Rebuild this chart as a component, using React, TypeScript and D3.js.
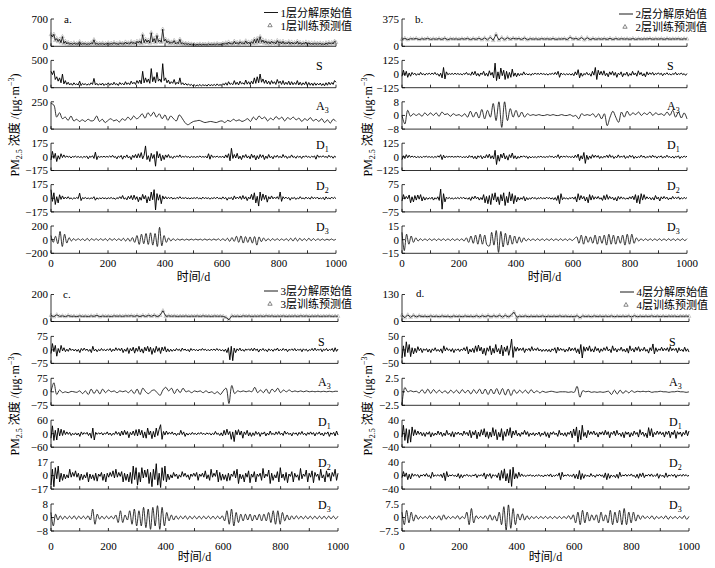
import React from "react";
import * as d3 from "d3";

// ---------- Panel a (layer 1) ----------
const aS = [300,240,310,150,200,120,180,90,250,70,130,
  60,100,50,80,45,90,55,70,50,120,
  40,80,55,75,45,70,50,90,60,170,50,80,45,75,50,85,40,70,55,90,
  45,80,50,100,55,75,40,95,60,80,50,110,60,90,55,120,70,100,60,130,
  80,140,70,300,90,180,100,160,80,350,110,200,90,280,120,160,100,440,130,180,
  90,140,70,110,80,150,60,100,70,180,60,90,50,80,45,70,40,60,35,55,
  30,50,35,60,30,55,40,50,30,65,35,55,40,60,35,70,40,55,45,75,
  50,90,45,110,60,80,55,130,60,100,50,120,70,90,60,140,65,110,60,120,
  70,180,80,200,90,250,100,160,80,140,70,120,60,130,75,110,60,150,80,120,
  60,130,55,100,60,120,50,110,55,95,60,130,50,100,45,90,55,110,40,95,
  45,85,40,90,45,80,50,85,40,75,35,90,45,100,55,95,60,130,100];
const aOrig = aS;
const aA3 = [235,220,110,150,95,110,80,120,75,90,70,85,70,90,75,80,120,70,90,60,80,95,75,85,65,95,80,110,85,120,95,110,140,100,150,120,155,110,140,95,130,80,120,95,75,130,100,60,40,55,70,75,80,70,60,65,70,65,60,70,75,60,80,70,90,75,85,70,80,95,70,110,85,120,95,110,75,100,85,115,90,110,75,105,90,110,85,100,70,95,80,105,75,90,70,95,60,85,55,90,70];
const aD1 = [-40,70,-20,45,-60,15,-30,40,-10,25,-8,12,-5,8,-15,6,-4,10,-6,5,
  -8,4,-12,6,-5,10,-25,8,-6,15,-20,60,-35,10,-6,5,-4,8,-5,6,
  -4,12,-6,20,-8,5,-25,10,-6,18,-30,12,-8,25,-15,6,-35,20,-10,30,
  -15,40,-10,55,-25,20,140,-35,15,-60,45,-20,30,-120,70,-15,40,-50,20,-35,
  25,-8,30,-12,6,-20,10,-6,15,-5,25,-8,6,-4,10,-6,4,-12,6,-5,
  4,-8,5,-4,12,-6,4,-5,8,-15,40,-30,25,-8,5,-4,10,-6,4,-5,
  8,-15,25,-10,40,-50,110,-20,30,-15,45,-25,10,-35,20,-8,30,-15,12,-25,
  35,-10,20,-40,15,-25,30,-8,25,-35,10,-20,30,-12,8,-25,15,-6,20,-10,
  8,-15,30,-6,12,-20,5,-10,25,-8,6,-18,12,-5,8,-20,10,-4,15,-6,
  5,-10,8,-4,12,-30,25,-6,8,-4,15,-6,5,-12,20,-5,8,-18,10,-6];
const aD2 = [110,-40,70,-80,20,-60,45,-15,30,-10,15,-6,20,-8,5,-12,6,-4,10,-5,
  65,-30,8,-4,10,-6,4,-8,5,-4,20,-25,6,-10,4,-6,8,-5,4,-8,
  6,-4,10,-5,4,-15,8,-5,20,-6,35,-12,6,-20,25,-8,35,-20,40,-15,
  20,-45,15,-25,50,-10,35,-60,20,-35,80,-20,110,-150,60,-25,45,-70,30,-10,
  20,-8,12,-5,15,-10,4,-8,12,-5,20,-4,6,-3,10,-6,4,-8,5,-4,
  8,-4,12,-6,4,-10,15,-5,8,-4,6,-12,5,-4,10,-6,15,-5,4,-10,
  18,-6,10,-25,8,-4,12,-20,30,-8,15,-5,25,-15,35,-10,20,-30,15,-8,
  50,-20,70,-60,25,-100,80,-30,55,-15,40,-50,20,-10,30,-8,15,-5,20,-12,
  80,-40,20,-6,15,-5,10,-25,8,-4,12,-15,5,-8,20,-6,4,-10,15,-5,
  8,-12,20,-6,10,-4,15,-10,5,-8,12,-20,18,-6,4,-8,15,-5,12,-6];
const aD3 = [60,-40,50,-60,120,-100,80,-50,30,-20,15,-12,15,-10,12,-15,18,-15,15,-10,12,-10,15,-12,15,-15,18,-12,15,-12,15,-15,20,-20,20,-25,30,-40,60,-70,80,-60,90,-70,100,-80,90,-100,180,-90,60,-40,25,-20,15,-12,10,-8,8,-8,8,-8,8,-6,8,-6,8,-8,10,-8,8,-8,10,-8,12,-12,15,-15,20,-25,30,-25,50,-40,55,-50,45,-40,40,-50,45,-80,40,-30,25,-20,15,-15,15,-12,15,-12,12,-12,15,-15,20,-20,25,-20,20,-15,15,-15,20,-15,15,-12,12,-10,10,-10,8,-8,10,-8,8];

// ---------- Panel b (layer 2) ----------
const bOrig = [95,110,90,105,100,108,92,104,98,110,95,103,97,106,94,112,90,104,99,102,96,105,98,110,92,107,95,112,90,115,88,125,80,165,85,120,90,118,95,112,100,108,94,115,90,105,98,103,96,106,99,104,97,108,95,102,100,106,92,125,98,110,94,120,88,118,92,108,96,104,98,106,95,110,93,108,97,105,99,103,96,107,95,104,98,102,100,106,97,103,99,104,96,105,98,102,100,104,97,103,100];
const bS = [-20,35,-15,25,-30,10,-20,15,-5,8,-12,4,-8,15,-6,4,-10,6,-3,8,
  -5,10,-4,15,-6,3,-20,8,-35,60,-45,20,-6,4,-3,6,-4,8,-3,5,
  -4,3,-8,5,-3,15,-6,4,-12,20,-8,25,-15,6,-20,10,-5,25,-15,8,
  -20,30,-10,15,-35,100,-60,20,-45,55,-15,35,-50,25,-40,15,-30,45,-20,10,
  -25,8,-15,5,-10,20,-6,4,-8,3,-12,5,-4,10,-3,6,-4,8,-3,4,
  -6,3,-10,4,-3,8,-5,15,-6,25,-30,10,-5,4,-8,3,-6,4,-10,5,
  -15,20,-8,40,-35,10,-20,5,-6,15,-8,4,-20,25,-10,60,-50,35,-8,25,
  -10,30,-15,8,-25,20,-6,25,-12,15,-30,8,-6,20,-25,6,-10,18,-20,5,
  -12,25,-8,10,-20,30,-6,15,-18,5,-25,20,-8,12,-4,15,-10,6,-3,12,
  -5,8,-15,6,-4,12,-6,3,-10,5,-4,15,-8,4,-3,10,-6,4,-12,5];
const bA3 = [0,-5,3,-0.5,1,0,1,-0.5,1.5,0,1.5,0,1.5,-0.5,2,0.5,1,-0.5,1,0,0.5,-0.5,1,-1,2.5,-1,2,-1.5,3.5,-2,3,-1,7,-3,8,-7,8,-3,4,-1,3,-1,2,-1,1,0,0.5,0,0.5,0,0,0.5,0,0.5,0,0,0.5,0,0,0.5,-0.5,0,-2,1,0,0.5,0,1,-1,1,-2,1,-6,-1,2.5,-1,-4,2,-1,2.5,0,1.5,0.5,2,0,1.5,0.5,2,0,1.5,0.5,1,0,2,0,3,-1,2,-1.5,1.5,-2];
const bD1 = [-25,10,-15,20,-8,15,-5,8,-3,6,-10,4,-6,3,-8,5,-2,6,-4,3,
  -5,3,-8,4,-6,10,-4,20,-25,15,-10,6,-3,4,-2,5,-4,3,-2,6,
  -3,5,-8,2,-6,4,-10,12,-4,8,-15,6,-20,10,-5,12,-18,6,-10,20,
  -8,25,-15,10,-20,60,-70,15,-40,25,-10,35,-20,10,-30,20,-8,35,-15,10,
  -20,5,-12,8,-3,10,-4,6,-15,5,-10,3,-6,2,-8,4,-3,6,-5,2,
  -6,3,-4,8,-2,5,-10,6,-5,20,-15,8,-3,6,-2,8,-4,3,-6,5,
  -10,15,-6,25,-35,10,-20,40,-60,15,-25,8,-15,20,-6,15,-4,12,-15,5,
  -12,6,-4,15,-8,20,-5,10,-15,4,-8,18,-6,5,-3,12,-15,4,-8,15,
  -4,12,-15,5,-10,3,-6,15,-4,8,-12,3,-5,10,-8,15,-3,6,-12,5,
  -3,10,-12,4,-6,15,-4,3,-10,6,-12,5,-4,10,-15,3,-6,8,-3,6];
const bD2 = [-15,20,-5,10,-3,18,-25,8,-20,15,-10,18,-5,20,-15,8,-10,4,-6,3,
  -4,6,-10,3,-5,8,-12,50,-60,25,-20,6,-2,4,-3,2,-5,3,-2,4,
  -3,5,-2,6,-4,2,-6,4,-12,8,-4,12,-3,6,-10,4,-8,20,-25,10,
  -30,15,-35,25,-10,30,-20,8,-35,20,-15,30,-40,10,-25,35,-15,25,-30,15,
  -20,6,-10,3,-6,10,-15,4,-8,2,-5,6,-2,4,-6,3,-2,5,-4,2,
  -3,6,-2,4,-5,3,-8,4,-12,15,-30,25,-8,4,-3,2,-6,3,-2,6,
  -5,8,-20,25,-10,15,-4,10,-15,6,-25,20,-10,15,-6,8,-3,10,-5,3,
  -12,15,-8,20,-6,10,-3,6,-10,4,-15,10,-5,8,-3,4,-6,2,-5,8,
  -3,12,-8,20,-25,15,-30,25,-10,20,-6,8,-3,5,-8,4,-10,15,-4,6,
  -15,8,-4,10,-3,6,-8,2,-5,10,-3,5,-2,8,-6,3,-4,5,-2,4];
const bD3 = [8,-12,6,-5,4,-3,2,-1.5,1,-1,1,-1,1,-1,1,-1,1,-1,1,-1,1,-1,1,-1,1,-1,1,-1.5,2,-3,4,-4,5,-5,6,-5,5,-6,-7,8,-6,10,-14,9,-8,7,-6,5,-5,4,-4,3,-3,2,-1.5,1,-1,1,-1,1,-1,1,-1,1,-1,1,-1,1,-1,1,-1,1,-1,1,-1,1,3,-4,5,-5,4,-3,3,-4,5,-5,4,-4,5,-6,6,-5,5,-5,4,-4,5,-6,6,-5,6,-4,2,-1.5,1,-1,1,-1,1,-1,1,-1,1,-1,1,-1,1,-1,1,-1,1,-1,1,-1,1];

// ---------- Panel c (layer 3) ----------
const cOrig = [45,35,50,38,42,36,44,38,40,36,42,38,40,37,42,38,46,35,41,38,40,37,42,39,41,38,42,40,43,38,44,36,45,37,46,38,47,36,45,80,38,42,39,41,38,40,39,41,38,40,39,41,38,42,39,40,38,41,39,40,38,30,12,42,38,40,37,42,39,41,38,40,39,41,38,42,39,41,38,40,39,41,38,40,39,41,38,42,39,41,38,40,39,41,38,40,39,41,38,40,39];
const cS = [-20,35,-10,25,-35,8,-15,25,-6,12,-10,4,-8,10,-3,5,-6,4,-8,3,
  -15,8,-4,10,-3,5,-8,3,-15,20,-6,4,-10,3,-5,8,-4,3,-6,5,
  -3,8,-10,4,-6,12,-3,8,-5,10,-15,4,-8,12,-20,8,-6,15,-18,10,
  -8,20,-12,6,-18,15,-6,20,-10,15,-25,8,-15,20,-8,12,-20,15,-6,18,
  -12,6,-10,4,-8,3,-6,8,-3,4,-8,10,-2,5,-6,3,-10,8,-3,5,
  -4,2,-6,5,-3,8,-2,4,-5,3,-6,4,-2,5,-4,8,-3,4,-6,2,
  -8,4,-15,12,-55,20,-60,10,-15,6,-4,10,-6,3,-8,5,-2,6,-4,8,
  -6,10,-3,5,-12,4,-3,8,-5,2,-10,6,-4,3,-8,5,-2,10,-6,3,
  -4,8,-3,5,-10,3,-2,6,-4,8,-6,3,-2,5,-10,6,-3,4,-8,2,
  -3,8,-5,10,-4,3,-2,6,-10,4,-3,8,-6,3,-2,8,-10,12,-8,5];
const cA3 = [0,50,-15,10,-5,0,-5,2,0,-3,5,-10,5,-15,15,-10,12,-12,15,-5,10,0,5,-5,5,0,5,-5,10,-10,15,-15,20,0,-10,5,10,-5,-20,10,25,5,20,-10,15,-5,20,0,5,-5,5,0,5,-5,5,-5,0,-10,0,-15,5,20,-65,35,-10,5,0,5,0,5,0,25,-5,10,-5,15,-10,15,0,20,-5,10,0,10,0,5,0,5,0,5,0,3,0,3,0,3,0,3,0,3,2];
const cD1 = [-20,35,-30,15,-28,25,-10,20,-8,15,-4,8,-3,6,-8,2,-5,4,-6,3,
  -12,8,-4,5,-2,6,-8,3,-20,25,-28,6,-3,4,-2,5,-6,3,-2,8,
  -5,3,-8,2,-4,10,-3,6,-10,12,-6,15,-4,10,-18,6,-5,12,-8,18,
  -10,20,-6,15,-18,8,-20,25,-5,12,-22,10,-15,25,-8,20,40,-25,10,-6,
  12,-3,6,-2,8,-4,3,-8,2,-5,15,-4,8,-12,3,-6,2,-4,6,-3,
  2,-5,4,-2,6,-3,2,-5,4,-2,3,-6,2,-4,10,-3,2,-8,4,-10,
  15,-6,20,-4,10,-25,8,-35,15,-5,18,-6,12,-20,8,-4,15,-10,5,-12,
  4,-8,10,-3,6,-12,4,-2,8,-10,3,-6,12,-4,2,-6,8,-3,10,-4,
  3,-8,12,-2,6,-4,3,-10,5,-2,4,-8,6,-3,10,-4,2,-8,5,-3,
  8,-3,5,-10,4,-2,8,-6,3,-10,5,-2,8,-12,4,-3,6,-10,12,-6];
const cD2 = [-12,8,-14,10,-4,12,-8,3,-6,2,-4,1,-3,8,-2,4,-1,6,-2,3,
  -6,2,-5,1,-3,4,-8,2,-4,1,-6,3,-7,2,-1,4,-6,2,-8,3,
  -2,4,-1,6,-3,8,-2,4,-1,5,-8,3,-6,2,-8,4,-10,12,-5,10,
  -12,4,-8,10,-3,7,-2,8,-10,4,-14,8,-5,15,-12,3,-15,10,-6,12,
  -8,2,-5,1,-3,4,-1,2,-4,1,-2,5,-1,3,-2,1,-5,2,-1,3,
  -1,4,-6,2,-1,3,-2,6,-4,1,-6,8,-2,3,-1,7,-8,4,-6,2,
  -5,1,-7,3,-6,2,-1,6,-3,8,-10,2,-4,1,-8,3,-2,6,-9,2,
  -2,5,-8,2,-1,3,-6,9,-3,2,-1,7,-10,3,-6,1,-3,5,-8,10,
  -3,2,-6,4,-9,2,-1,5,-8,3,-2,1,-6,9,-4,2,-1,7,-8,3,
  -2,6,-9,4,-1,2,-6,8,-3,1,-8,6,-2,3,-7,4,-1,8,-6,3];
const cD3 = [3,-5,2,-1.5,1,-1,0.8,-0.8,0.8,-0.8,1,-1,0.8,-0.8,0.8,-0.8,1,-1.5,5,-4,2,-1,0.8,-0.8,0.8,-0.8,0.8,-0.8,1.5,-3,4,-3,1.5,-1.5,4,-4,5,-5,4,-5,6,-6,5,-7,6,-5,7,-7,6,-5,3,-2,1.5,-1.5,1,-1,0.8,-0.8,1,-1,0.8,-0.8,0.8,-0.8,0.8,-0.8,0.8,-0.8,0.8,-0.8,0.8,-0.8,0.8,-0.8,1,-2,4,-4,5,-5,3,-3,2,-2,2,-1.5,2,-2,1.5,-1.5,2,-2,2,-2,3,-3,4,-4,4,-4,3,-2,1.5,-1.5,1,-1,1,-0.8,0.8,-0.8,0.8,-0.8,0.8,-0.8,0.8,-0.8,0.8,-0.8,0.8,-0.8,0.8,-0.8,0.8,-0.8,0.8];

// ---------- Panel d (layer 4) ----------
const dOrig = [30,18,32,20,30,22,28,24,26,23,27,24,26,23,27,24,26,22,27,24,26,23,27,24,26,23,28,22,28,23,29,22,28,23,30,21,30,22,29,45,20,26,24,27,23,26,24,26,24,27,23,26,24,26,24,27,24,26,24,25,23,28,18,27,24,26,23,27,24,26,24,26,24,27,23,26,24,26,24,27,22,28,23,26,24,26,24,27,24,26,24,26,24,26,25,26,24,26,25,26,25];
const dS = [-30,15,-25,30,-10,20,-25,8,-15,6,-10,12,-3,6,-10,4,-2,5,-8,3,
  -10,4,-3,8,-5,2,-6,4,-12,15,-4,8,-2,3,-6,5,-10,3,-2,4,
  -6,3,-2,8,-4,12,-15,3,-8,6,-10,15,-6,18,-4,10,-15,6,-20,8,
  -5,15,-18,6,-12,20,-8,5,-15,18,-22,10,-6,15,-20,4,40,-28,12,-5,
  10,-3,6,-2,8,-10,4,-2,6,-5,12,-3,5,-2,8,-4,3,-6,2,-5,
  3,-6,2,-8,4,-2,8,-12,10,-3,6,-2,4,-8,3,-5,10,-4,6,-2,
  8,-10,4,-15,20,-30,12,-5,10,-3,15,-6,4,-8,12,-3,6,-10,4,-5,
  8,-2,12,-4,3,-10,15,-3,6,-8,4,-2,10,-5,3,-8,6,-12,15,-3,
  5,-8,10,-2,12,-6,4,-3,10,-5,2,-12,8,-3,22,-15,8,-6,4,-2,
  10,-4,6,-2,8,-6,12,-3,5,-2,6,-10,8,-4,2,-6,10,-5,4,-8];
const dA3 = [-2.5,0.8,0,0.2,0,0.1,-0.2,0.4,-0.3,0.5,-0.3,0.4,-0.2,0.3,-0.2,0.2,-0.3,0.3,-0.2,0.3,-0.3,0.4,-0.2,0.3,-0.4,0.4,-0.3,0.5,-0.4,0.5,-0.5,0.5,-0.4,0.6,-0.5,0.6,-0.6,0.5,-0.7,0.4,-0.3,0.3,-0.2,0.3,-0.3,0.4,-0.2,0.2,-0.2,0.1,-0.1,0,0.1,0,-0.1,0,0,0,-0.1,0,-0.1,1.0,-1.0,0.2,0,0.1,-0.1,0,-0.1,0,-0.1,0,0.1,-0.5,0.3,-0.4,0.3,-0.3,0.2,-0.2,0.2,-0.1,0.1,0,0.1,0,0.1,-0.1,0,0,0.1,0,0,-0.1,0,0,0.1,0,0,-0.1,0];
const dD1 = [-10,25,-20,15,-28,12,-25,20,-6,12,-4,8,-2,5,-6,3,-8,4,-2,6,
  -10,3,-6,2,-4,8,-3,5,-8,2,-6,10,-3,2,-8,6,-10,4,-2,5,
  -3,2,-6,8,-2,4,-6,10,-12,6,-4,10,-15,5,-8,12,-4,15,-10,6,
  -14,5,-10,18,-6,12,-18,4,-10,15,-20,6,-8,14,-5,18,-12,8,-4,10,
  -6,2,-8,4,-2,10,-3,6,-8,2,-4,3,-6,2,-3,5,-8,2,-4,6,
  -8,3,-12,4,-2,6,-3,2,-8,10,-4,2,-6,3,-8,4,-2,8,-12,14,
  -6,20,-25,10,-18,25,-8,4,-12,10,-3,6,-2,8,-4,3,-10,5,-2,6,
  -4,10,-3,6,-12,4,-2,8,-6,10,-3,2,-8,4,-12,6,-2,5,-10,3,
  -6,8,-2,4,-10,12,-3,5,-8,2,-12,18,-6,15,-10,4,-3,8,-2,6,
  -3,4,-10,6,-2,8,-12,5,-3,10,-14,6,-2,5,-8,4,-3,10,-6,8];
const dD2 = [-6,12,-3,8,-12,4,-10,6,-2,4,-1,3,-6,2,-1,4,-2,6,-3,1,
  -8,10,-3,2,-1,3,-2,4,-6,8,-15,12,-4,2,-1,3,-2,1,-4,6,
  -8,3,-6,2,-1,4,-2,1,-3,2,-1,5,-6,2,-1,3,-2,8,-10,4,
  -2,6,-8,3,-1,2,-6,8,-14,15,-8,20,-16,6,-22,18,-32,25,-10,6,
  -8,10,-3,5,-2,1,-3,2,-1,3,-2,1,-3,2,-1,3,-2,1,-4,2,
  -1,3,-2,5,-4,1,-2,3,-1,8,-12,10,-3,2,-1,4,-2,1,-3,5,
  -8,4,-10,15,-12,6,-8,3,-2,1,-4,6,-2,1,-5,3,-1,4,-2,2,
  -6,8,-12,6,-8,2,-3,1,-6,4,-8,10,-3,2,-1,4,-2,3,-1,5,
  -2,1,-6,4,-8,6,-3,8,-6,2,-1,4,-2,5,-3,1,-2,6,-8,3,
  -2,1,-6,8,-5,2,-1,3,-2,4,-6,2,-1,3,-2,4,-1,3,-2,1];
const dD3 = [3,-4,4,-3,3,-2,1.5,-1,0.6,-0.6,0.6,-0.6,1,-1,0.6,-0.6,1,-1.5,1.5,-1,0.6,-0.6,0.6,-0.6,1,-1,0.6,-0.6,3,-4,5,-3,1,-0.6,0.6,-0.6,1,-1,1.5,-1.5,1,-2,3,-4,6,-7,7,-6,5,-4,2,-1.5,2,-1.5,1,-1,0.6,-0.6,0.6,-0.6,0.6,-0.6,0.6,-0.6,0.6,-0.6,0.6,-0.6,0.6,-0.6,0.6,-0.6,1,-1,1.5,-3,3,-4,4,-3,3,-2,1.5,-1.5,1.5,-3,3,-2,1.5,-3,4,-4,3,-3,4,-4,5,-4,3,-3,3,-2,1.5,-1,1,-0.6,0.6,-0.6,1,-1,0.6,-0.6,0.6,-0.6,1,-1,0.6,-0.6,0.6,-0.6,0.6,-0.6,1,-1,0.6];

// ---------- Axis ranges / tick labels ----------
const aRanges = [[0, 700], [0, 500], [0, 250], [-175, 175], [-175, 175], [-200, 200]];
const bRanges = [[0, 375], [-125, 125], [-8, 8], [-125, 125], [-75, 75], [-15, 15]];
const cRanges = [[0, 200], [-75, 75], [-75, 75], [-60, 60], [-17, 17], [-8, 8]];
const dRanges = [[0, 130], [-50, 50], [-2.5, 2.5], [-40, 40], [-40, 40], [-7.5, 7.5]];
const stripNames = ["", "S", "A", "D", "D", "D"];
const stripSubs = ["", "", "3", "1", "2", "3"];
const xTickMinor = [0, 100, 200, 300, 400, 500, 600, 700, 800, 900, 1000];
const xTickLabels = [0, 200, 400, 600, 800, 1000];
const layerNames = ["1", "2", "3", "4"];
const panelLetters = ["a.", "b.", "c.", "d."];

const FONT = "'Liberation Serif','Times New Roman','Noto Sans CJK SC',serif";

type PanelLayout = {
  x0: number; x1: number; y0: number; sp: number; h: number;
  letterX: number; letterY: number; legRight: number; legY1: number; legY2: number;
  xLabY: number; xTitleY: number; yLabX: number; yLabY: number;
};

const layouts: PanelLayout[] = [
  { x0: 51, x1: 336, y0: 19, sp: 41.4, h: 27.3, letterX: 64, letterY: 23, legRight: 352, legY1: 16.5, legY2: 29.5, xLabY: 267, xTitleY: 281, yLabX: 19, yLabY: 125 },
  { x0: 402, x1: 687, y0: 19, sp: 41.4, h: 27.3, letterX: 415, letterY: 23, legRight: 707, legY1: 18, legY2: 31, xLabY: 267, xTitleY: 281, yLabX: 372, yLabY: 125 },
  { x0: 51, x1: 338, y0: 294.5, sp: 41.9, h: 27, letterX: 63, letterY: 298, legRight: 352, legY1: 295, legY2: 308, xLabY: 550, xTitleY: 561, yLabX: 19, yLabY: 404 },
  { x0: 402, x1: 689, y0: 294.5, sp: 41.9, h: 27, letterX: 416, letterY: 297, legRight: 708, legY1: 296, legY2: 309, xLabY: 550, xTitleY: 561, yLabX: 372, yLabY: 404 },
];

const panelData = [
  { series: [aOrig, aS, aA3, aD1, aD2, aD3], ranges: aRanges },
  { series: [bOrig, bS, bA3, bD1, bD2, bD3], ranges: bRanges },
  { series: [cOrig, cS, cA3, cD1, cD2, cD3], ranges: cRanges },
  { series: [dOrig, dS, dA3, dD1, dD2, dD3], ranges: dRanges },
];

const fmt = (v: number) => (v < 0 ? "\u2212" + Math.abs(v) : String(v));

function Panel({ idx }: { idx: number }) {
  const L = layouts[idx];
  const P = panelData[idx];
  const x = d3.scaleLinear().domain([0, 1000]).range([L.x0, L.x1]);
  const tri = d3.symbol(d3.symbolTriangle, 6)() as string;
  const legTri = d3.symbol(d3.symbolTriangle, 8)() as string;
  const labelOffsets = [0, 9.5, 8, 6, 5, 5];

  return (
    <g>
      {P.series.map((data, k) => {
        const [lo, hi] = P.ranges[k];
        const top = L.y0 + k * L.sp;
        const bot = top + L.h;
        const y = d3.scaleLinear().domain([lo, hi]).range([bot, top]);
        const n = data.length;
        const day = (i: number) => (i * 1000) / (n - 1);
        const smooth = k === 2 || k === 5;
        const noisy = k === 1 || k === 3 || k === 4;
        const line = d3
          .line<number>()
          .x((_, i) => x(day(i)))
          .y((d) => y(d))
          .curve(smooth ? d3.curveCatmullRom : d3.curveLinear);
        const yTicks = lo === 0 ? [hi, 0] : [hi, 0, lo];
        return (
          <g key={k}>
            {k === 0 &&
              data.map((d, i) => (
                <path key={i} d={tri} transform={`translate(${x(day(i))},${y(d)})`} fill="none" stroke="#9a9a9a" strokeWidth={0.5} />
              ))}
            <path d={line(data) || ""} fill="none" stroke="#000" strokeWidth={noisy ? 0.95 : 0.8} strokeLinejoin="round" />
            <line x1={L.x0} x2={L.x0} y1={top} y2={bot} stroke="#000" strokeWidth={0.8} />
            {yTicks.map((v) => (
              <g key={v}>
                <line x1={L.x0} x2={L.x0 + 3} y1={y(v)} y2={y(v)} stroke="#000" strokeWidth={0.8} />
                <text x={L.x0 - 3} y={y(v)} dy="0.35em" textAnchor="end" fontSize={11} fontFamily={FONT}>
                  {fmt(v)}
                </text>
              </g>
            ))}
            <line x1={L.x0} x2={L.x1} y1={bot} y2={bot} stroke="#000" strokeWidth={0.8} />
            {xTickMinor.map((t) => (
              <line key={t} x1={x(t)} x2={x(t)} y1={bot} y2={bot - 3} stroke="#000" strokeWidth={0.8} />
            ))}
            {stripNames[k] && (
              <text x={L.x1 - 20} y={top + labelOffsets[k]} fontSize={12} fontFamily={FONT}>
                {stripNames[k]}
                {stripSubs[k] && (
                  <tspan fontSize={8} dy={3}>
                    {stripSubs[k]}
                  </tspan>
                )}
              </text>
            )}
          </g>
        );
      })}
      {xTickLabels.map((t) => (
        <text key={t} x={x(t)} y={L.xLabY} textAnchor="middle" fontSize={11} fontFamily={FONT}>
          {t}
        </text>
      ))}
      <text x={(L.x0 + L.x1) / 2} y={L.xTitleY} textAnchor="middle" fontSize={12} fontFamily={FONT}>
        时间/d
      </text>
      <text x={L.letterX} y={L.letterY} fontSize={11} fontFamily={FONT}>
        {panelLetters[idx]}
      </text>
      <line x1={L.legRight - 88} x2={L.legRight - 74} y1={L.legY1 - 4} y2={L.legY1 - 4} stroke="#000" strokeWidth={0.9} />
      <text x={L.legRight} y={L.legY1} textAnchor="end" fontSize={11} fontFamily={FONT}>
        {layerNames[idx]}层分解原始值
      </text>
      <path d={legTri} transform={`translate(${L.legRight - 82},${L.legY2 - 4})`} fill="none" stroke="#555" strokeWidth={0.7} />
      <text x={L.legRight} y={L.legY2} textAnchor="end" fontSize={11} fontFamily={FONT}>
        {layerNames[idx]}层训练预测值
      </text>
      <text transform={`translate(${L.yLabX},${L.yLabY}) rotate(-90)`} textAnchor="middle" fontSize={12} fontFamily={FONT}>
        PM<tspan fontSize={8} dy={3}>2.5</tspan>
        <tspan dy={-3}> 浓度 /(μg·m</tspan>
        <tspan fontSize={8} dy={-5}>−3</tspan>
        <tspan dy={5}>)</tspan>
      </text>
    </g>
  );
}

export default function App() {
  return (
    <svg
      width={715}
      height={568}
      style={{ position: "absolute", left: 0, top: 0, background: "#fff" }}
      xmlns="http://www.w3.org/2000/svg"
    >
      <rect x={0} y={0} width={715} height={568} fill="#fff" />
      {[0, 1, 2, 3].map((i) => (
        <Panel key={i} idx={i} />
      ))}
    </svg>
  );
}
